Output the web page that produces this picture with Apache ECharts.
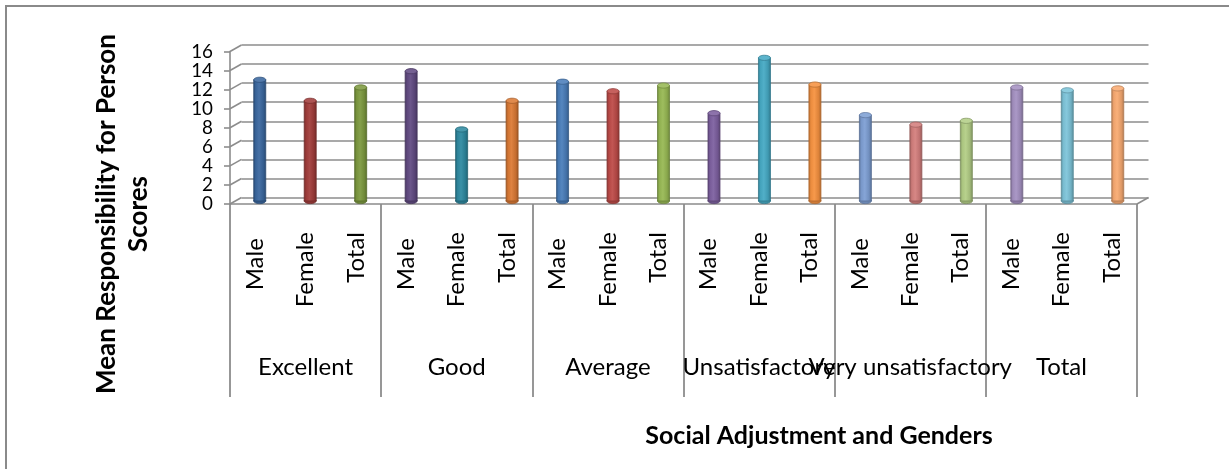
<!DOCTYPE html>
<html>
<head>
<meta charset="utf-8">
<title>Mean Responsibility for Person Scores</title>
<script src="https://cdn.jsdelivr.net/npm/echarts@6/dist/echarts.min.js"></script>
<style>
  html, body { margin: 0; padding: 0; background: #ffffff; }
  #chart { width: 1229px; height: 469px; }
</style>
</head>
<body>
<div id="chart"></div>
<script>
// Social adjustment levels (outer category row) and gender rows (inner row)
const adjustmentGroups = ['Excellent', 'Good', 'Average', 'Unsatisfactory', 'Very unsatisfactory', 'Total'];
const genderLabels = ['Male ', 'Female', 'Total'];

// Mean Responsibility for Person scores, one per gender row, group by group
const meanScores = [
  12.7, 10.5, 11.9,   // Excellent
  13.6, 7.5, 10.5,    // Good
  12.5, 11.5, 12.1,   // Average
  9.2, 15.0, 12.2,    // Unsatisfactory
  9.0, 8.0, 8.4,      // Very unsatisfactory
  11.9, 11.6, 11.8    // Total
];

// Value axis ticks
const yTickValues = [0, 2, 4, 6, 8, 10, 12, 14, 16];

const categories = adjustmentGroups.flatMap(() => genderLabels);

// Column colours (one per column, Office-style cycle)
const columnColors = [
  '#3B68A0', '#A23D3B', '#7D9A3F', '#624B83', '#2F8AA1', '#DC7A35',
  '#4A7EBB', '#BE4B48', '#98B954', '#7D60A0', '#46AAC5', '#F69240',
  '#7E9FD4', '#D47F7D', '#B3CE86', '#A591C2', '#7EC5DA', '#F9AB72'
];

const FONT = 'Lato, "Noto Sans", sans-serif';
const GRID_GRAY = '#8c8c8c';
// depth of the 3-D box (back wall offset from the front plane)
const DEPTH_DX = 11.5, DEPTH_DY = -6.5;

function shade(hex, f) {
  const n = parseInt(hex.slice(1), 16);
  const r = Math.round(((n >> 16) & 255) * f), g = Math.round(((n >> 8) & 255) * f), b = Math.round((n & 255) * f);
  return 'rgb(' + Math.min(r, 255) + ',' + Math.min(g, 255) + ',' + Math.min(b, 255) + ')';
}
function tint(hex, t) {
  const n = parseInt(hex.slice(1), 16);
  const c = [(n >> 16) & 255, (n >> 8) & 255, n & 255].map(v => Math.round(v + (255 - v) * t));
  return 'rgb(' + c.join(',') + ')';
}

// Cylinder column: body with horizontal shading, elliptic top and bottom caps
function renderCylinder(params, api) {
  const i = api.value(0);
  const v = api.value(1);
  const base = api.coord([i, 0]);
  const top = api.coord([i, v]);
  const color = columnColors[i % columnColors.length];
  const hw = 6, ry = 2.6;
  const body = {
    type: 'linear', x: 0, y: 0, x2: 1, y2: 0,
    colorStops: [
      { offset: 0, color: shade(color, 0.72) },
      { offset: 0.18, color: shade(color, 0.95) },
      { offset: 0.45, color: tint(color, 0.06) },
      { offset: 0.78, color: shade(color, 0.9) },
      { offset: 1, color: shade(color, 0.7) }
    ]
  };
  return {
    type: 'group',
    children: [
      { type: 'ellipse', shape: { cx: base[0], cy: base[1], rx: hw, ry: ry },
        style: { fill: shade(color, 0.85), stroke: shade(color, 0.7), lineWidth: 0.8 } },
      { type: 'rect', shape: { x: base[0] - hw, y: top[1], width: hw * 2, height: base[1] - top[1] },
        style: { fill: body, stroke: shade(color, 0.7), lineWidth: 0.8 } },
      { type: 'ellipse', shape: { cx: top[0], cy: top[1], rx: hw, ry: ry },
        style: { fill: tint(color, 0.12), stroke: shade(color, 0.75), lineWidth: 0.8 } }
    ]
  };
}

// Slanted depth edges joining the front plane to the back wall
function renderDepthEdge(params, api) {
  const c = api.coord([api.value(0), api.value(1)]);
  const w = api.size([1, 0])[0];
  const x = api.value(2) === 1 ? c[0] + w / 2 : c[0] - w / 2;
  return {
    type: 'line',
    shape: { x1: x, y1: c[1], x2: x + DEPTH_DX, y2: c[1] + DEPTH_DY },
    style: { stroke: GRID_GRAY, lineWidth: 1.6 }
  };
}

const depthEdges = yTickValues.map(v => [0, v, 0]).concat([[categories.length - 1, yTickValues[0], 1]]);

const yMin = yTickValues[0], yMax = yTickValues[yTickValues.length - 1];
const yStep = yTickValues[1] - yTickValues[0];

const chart = echarts.init(document.getElementById('chart'), null, { renderer: 'canvas' });

const option = {
  animation: false,
  backgroundColor: '#ffffff',
  grid: [
    // front plane: axes and labels
    { left: 230, top: 51.5, width: 907, height: 152.5 },
    // back wall: gridlines
    { left: 241.5, top: 45, width: 907, height: 152.5 },
    // mid depth: columns
    { left: 234.5, top: 48.3, width: 908.5, height: 152.7 }
  ],
  xAxis: [
    {
      gridIndex: 0, type: 'category', data: categories, position: 'bottom',
      axisLine: { show: true, lineStyle: { color: GRID_GRAY, width: 1.6 } },
      axisTick: { show: false },
      axisLabel: { interval: 0, rotate: 90, margin: 28, color: '#000', fontFamily: FONT, fontSize: 24 },
      splitLine: { show: false }
    },
    {
      gridIndex: 0, type: 'category', data: adjustmentGroups, position: 'bottom',
      axisLine: { show: false },
      axisTick: { show: true, length: 193, interval: 0, lineStyle: { color: GRID_GRAY, width: 1.8 } },
      axisLabel: { interval: 0, hideOverlap: false, margin: 151, color: '#000', fontFamily: FONT, fontSize: 24 },
      splitLine: { show: false }
    },
    { gridIndex: 1, type: 'category', data: categories, show: false },
    { gridIndex: 2, type: 'category', data: categories, show: false }
  ],
  yAxis: [
    {
      gridIndex: 0, type: 'value', min: yMin, max: yMax, interval: yStep,
      axisLine: { show: true, lineStyle: { color: GRID_GRAY, width: 1.6 } },
      axisTick: { show: true, length: 6, lineStyle: { color: GRID_GRAY, width: 1.6 } },
      axisLabel: {
        margin: 17, color: '#000', fontFamily: FONT, fontSize: 18.8, lineHeight: 17,
        showMinLabel: true, showMaxLabel: true, hideOverlap: false
      },
      splitLine: { show: false }
    },
    {
      gridIndex: 1, type: 'value', min: yMin, max: yMax, interval: yStep,
      axisLine: { show: false }, axisTick: { show: false }, axisLabel: { show: false },
      splitLine: { show: true, lineStyle: { color: GRID_GRAY, width: 1.6 } }
    },
    { gridIndex: 2, type: 'value', min: yMin, max: yMax, interval: yStep, show: false, splitLine: { show: false } }
  ],
  series: [
    {
      type: 'custom', name: 'depth edges', xAxisIndex: 0, yAxisIndex: 0,
      renderItem: renderDepthEdge, data: depthEdges, silent: true, z: 1
    },
    {
      type: 'custom', name: 'Mean Responsibility for Person Scores', xAxisIndex: 3, yAxisIndex: 2,
      renderItem: renderCylinder,
      data: meanScores.map((v, i) => [i, v]),
      encode: { x: 0, y: 1 }, z: 3
    }
  ],
  graphic: [
    {
      type: 'rect', silent: true, z: 0,
      shape: { x: 6, y: 6, width: 1300, height: 600 },
      style: { fill: 'none', stroke: '#8a8a8a', lineWidth: 2 }
    },
    {
      type: 'text', x: 123, y: 214, rotation: Math.PI / 2,
      style: {
        text: 'Mean Responsibility for Person\nScores',
        fill: '#000', font: 'bold 26px ' + FONT, align: 'center', verticalAlign: 'middle', lineHeight: 32
      }
    },
    {
      type: 'text', x: 819, y: 436,
      style: {
        text: 'Social Adjustment and Genders',
        fill: '#000', font: 'bold 25px ' + FONT, align: 'center', verticalAlign: 'middle'
      }
    }
  ]
};

chart.setOption(option);
</script>
</body>
</html>
